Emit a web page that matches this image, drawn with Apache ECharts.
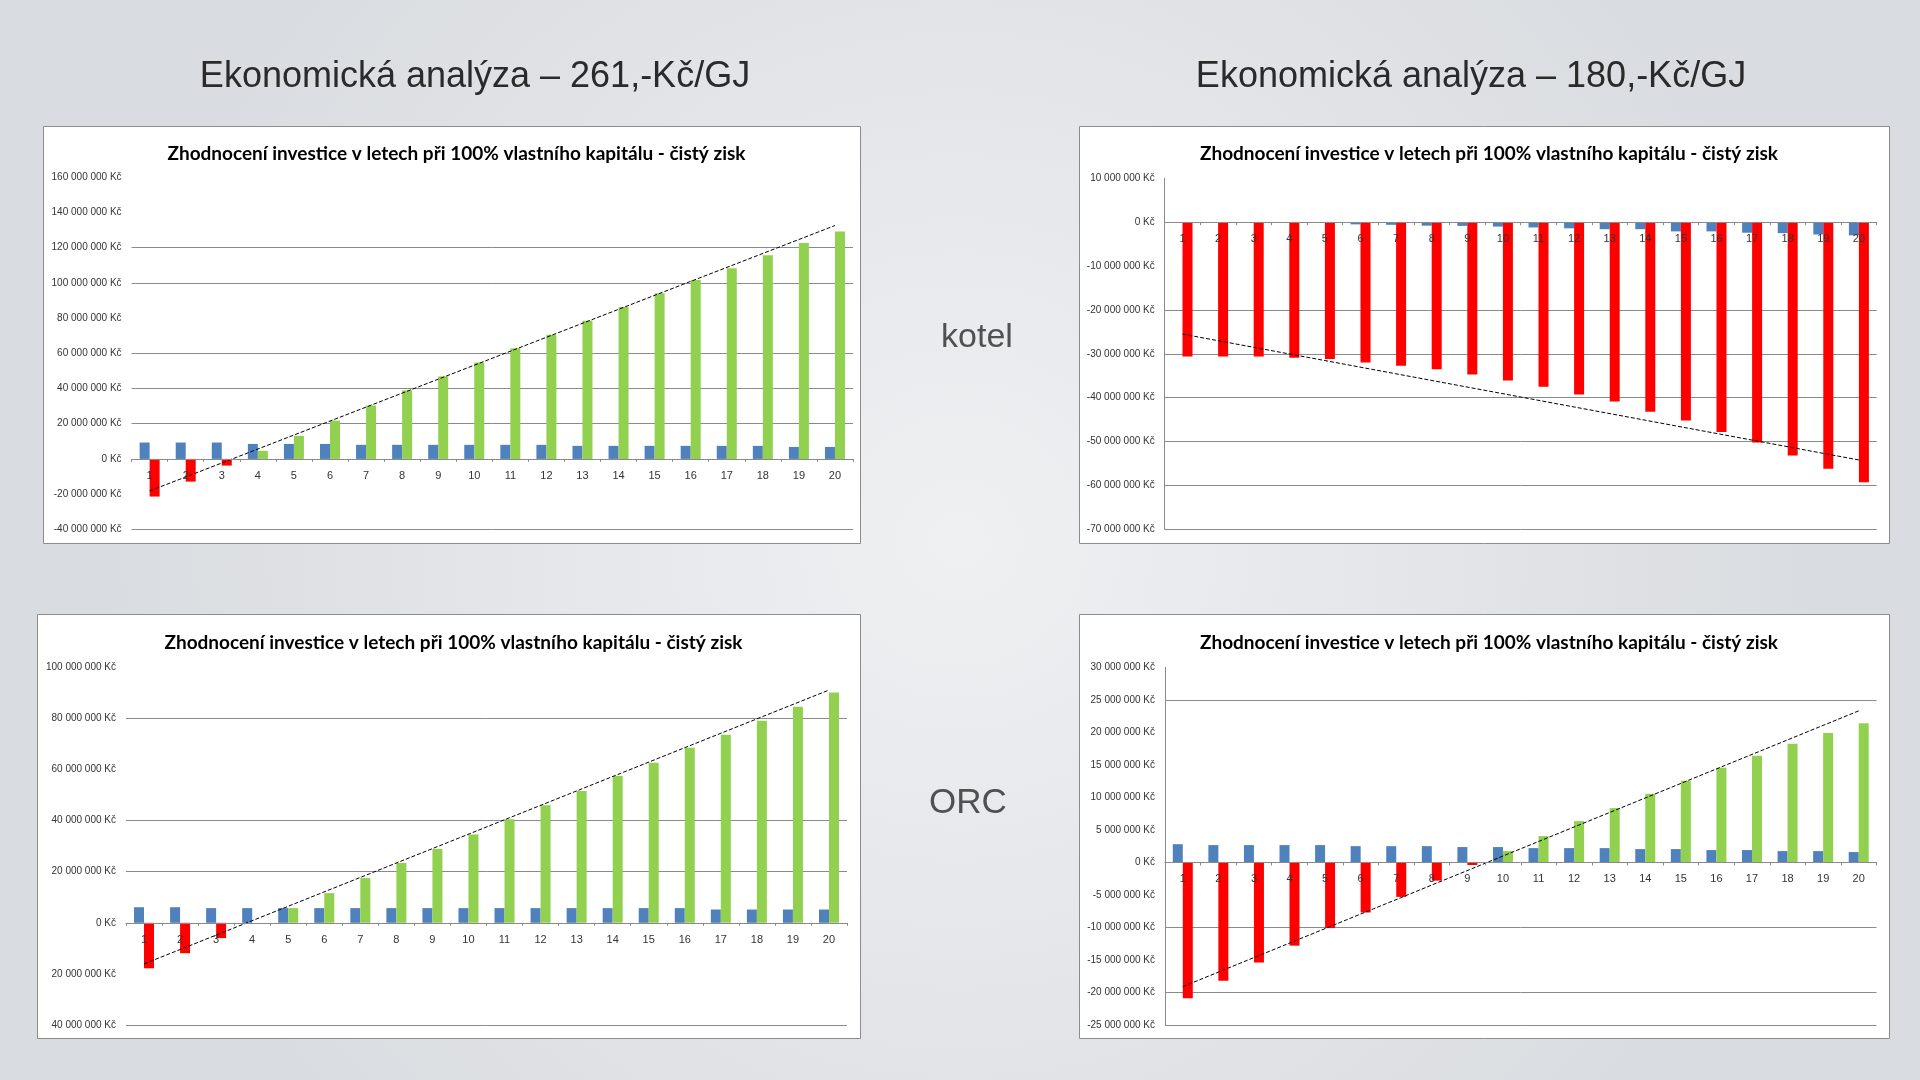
<!DOCTYPE html>
<html><head><meta charset="utf-8">
<script src="https://cdn.jsdelivr.net/npm/echarts@6/dist/echarts.min.js"></script>
<style>html,body{margin:0;padding:0;background:#e6e8eb}#c{width:1920px;height:1080px}</style>
</head><body><div id="c"></div>
<script>
// ---- data (values in millions of Kč) ----
const years = ['1','2','3','4','5','6','7','8','9','10','11','12','13','14','15','16','17','18','19','20'];

// 261 Kč/GJ – kotel
const kotel261Blue   = [9.3,9.3,9.3,8.5,8.5,8.5,8.0,8.0,8.0,8.0,8.0,8.0,7.4,7.4,7.4,7.4,7.4,7.4,6.8,6.8];
const kotel261Profit = [-21.4,-12.9,-3.8,4.6,13.1,21.8,30.3,38.9,46.9,54.8,62.8,70.6,78.5,86.3,94.1,101.7,108.3,115.7,122.6,129.2];
const kotel261Trend  = [-18.2, 132.6];

// 180 Kč/GJ – kotel
const kotel180Blue   = [-0.1,-0.1,-0.05,-0.1,-0.1,-0.5,-0.6,-0.8,-0.85,-1.0,-1.2,-1.4,-1.6,-1.6,-2.1,-2.1,-2.4,-2.5,-2.8,-3.0];
const kotel180Profit = [-30.6,-30.6,-30.6,-30.9,-31.2,-32.0,-32.7,-33.5,-34.7,-36.1,-37.5,-39.3,-40.9,-43.2,-45.2,-47.8,-50.2,-53.2,-56.2,-59.3];
const kotel180Trend  = [-25.5, -54.2];

// 261 Kč/GJ – ORC
const orc261Blue   = [6.1,6.1,5.75,5.75,5.75,5.75,5.75,5.75,5.75,5.75,5.75,5.75,5.75,5.75,5.75,5.75,5.2,5.2,5.2,5.2];
const orc261Profit = [-17.8,-11.9,-6.0,0,5.75,11.6,17.5,23.4,28.9,34.6,40.5,46.0,51.6,57.5,62.6,68.5,73.6,79.1,84.6,90.1];
const orc261Trend  = [-16.1, 91.1];

// 180 Kč/GJ – ORC
const orc180Blue   = [2.8,2.66,2.66,2.66,2.66,2.5,2.5,2.5,2.36,2.36,2.2,2.2,2.2,2.05,2.05,1.9,1.9,1.74,1.74,1.59];
const orc180Profit = [-20.9,-18.2,-15.4,-12.8,-10.1,-7.7,-5.3,-2.8,-0.4,1.74,4.05,6.35,8.35,10.55,12.55,14.55,16.4,18.25,19.9,21.4];
const orc180Trend  = [-19.1, 23.3];

// axis ranges (millions)
const axis1 = {min:-40, max:160, interval:20};
const axis2 = {min:-70, max:10,  interval:10};
const axis3 = {min:-40, max:100, interval:20};
const axis4 = {min:-25, max:30,  interval:5};

const slideTitleLeft  = 'Ekonomická analýza – 261,-Kč/GJ';
const slideTitleRight = 'Ekonomická analýza – 180,-Kč/GJ';
const rowLabels = ['kotel', 'ORC'];
const chartTitle = 'Zhodnocení investice v letech při 100% vlastního kapitálu - čistý zisk';

// ---- helpers ----
function kc(v, noSign) {
  const n = Math.round(v * 1e6);
  if (n === 0) return '0 Kč';
  const s = Math.abs(n).toString().replace(/\B(?=(\d{3})+(?!\d))/g, ' ');
  return (n < 0 && !noSign ? '-' : '') + s + ' Kč';
}
function trendData(t) {
  return years.map((_, i) => i === 0 ? t[0] : (i === years.length - 1 ? t[1] : '-'));
}
const G = '#8a8a8a', T = 'rgba(0,0,0,0)';
const LF = '"Liberation Sans", Arial, sans-serif';

const boxes = [
  {x:43,  y:126, w:817, h:417},
  {x:1079,y:126, w:810, h:417},
  {x:37,  y:614, w:823, h:424},
  {x:1079,y:614, w:810, h:424}
];
const grids = [
  {left:131.6, top:177.3, width:721.4, height:352},
  {left:1164.7,top:178.3, width:712,   height:351},
  {left:126,   top:667.3, width:721,   height:357.7},
  {left:1165,  top:667.3, width:711.5, height:357.7}
];
const axes = [axis1, axis2, axis3, axis4];
const splitColors = [
  [G,T,T,G,G,G,T,G,G,T,T],
  [G,G,G,G,G,G,T,T,T],
  [G,T,T,G,G,T,G,T],
  [G,G,T,G,T,T,T,T,T,T,G,T]
];
const showYLine = [false, true, false, true];
const blues = [kotel261Blue, kotel180Blue, orc261Blue, orc180Blue];
const profits = [kotel261Profit, kotel180Profit, orc261Profit, orc180Profit];
const trends = [kotel261Trend, kotel180Trend, orc261Trend, orc180Trend];
const titleY = [139, 139, 628, 628];

const option = {
  animation: false,
  backgroundColor: {type:'radial', x:0.5, y:0.5, r:0.8,
    colorStops:[{offset:0,color:'#eff0f2'},{offset:1,color:'#d9dce0'}]},
  title: boxes.map((b, i) => ({
    text: chartTitle, left: b.x + b.w / 2, top: titleY[i], textAlign: 'center',
    textStyle: {fontFamily: 'Lato, "Open Sans", sans-serif', fontWeight: 'bold', fontSize: 19, color: '#000'}
  })),
  graphic: [
    ...boxes.map(b => ({type:'rect', z:-10, silent:true,
      shape:{x:b.x+0.5, y:b.y+0.5, width:b.w, height:b.h},
      style:{fill:'#fff', stroke:'#8c8c8c', lineWidth:1}})),
    {type:'text', x:475, y:77.5, style:{text:slideTitleLeft, font:'36px '+LF, fill:'#2a2a2a', textAlign:'center', textVerticalAlign:'middle', verticalAlign:'middle'}},
    {type:'text', x:1471, y:77.5, style:{text:slideTitleRight, font:'36px '+LF, fill:'#2a2a2a', textAlign:'center', textVerticalAlign:'middle', verticalAlign:'middle'}},
    {type:'text', x:977, y:337.5, style:{text:rowLabels[0], font:'34px '+LF, fill:'#505050', textAlign:'center', textVerticalAlign:'middle', verticalAlign:'middle'}},
    {type:'text', x:968, y:803.5, style:{text:rowLabels[1], font:'35px '+LF, fill:'#505050', textAlign:'center', textVerticalAlign:'middle', verticalAlign:'middle'}}
  ],
  grid: grids.map(g => Object.assign({containLabel:false, outerBoundsMode:'none'}, g)),
  xAxis: grids.map((g, i) => ({
    gridIndex: i, type: 'category', data: years, z: 5, position: 'bottom',
    // place the category axis on the value axis' zero line
    offset: -g.height * (0 - axes[i].min) / (axes[i].max - axes[i].min),
    axisLine: {onZero: false, lineStyle: {color: G, width: 1}},
    axisTick: {show: true, length: 3, lineStyle: {color: G}},
    axisLabel: {fontSize: 11, color: '#333', margin: 11.5, fontFamily: LF},
    splitLine: {show: false}
  })),
  yAxis: axes.map((a, i) => ({
    gridIndex: i, type: 'value', min: a.min, max: a.max, interval: a.interval,
    axisLine: {show: showYLine[i], lineStyle: {color: G}},
    axisTick: {show: false},
    axisLabel: {fontSize: 10, color: '#333', margin: 10, fontFamily: LF,
      formatter: v => kc(v, i === 2)},
    splitLine: {show: true, lineStyle: {color: splitColors[i], width: 1}}
  })),
  series: []
};
for (let i = 0; i < 4; i++) {
  option.series.push({
    type: 'bar', xAxisIndex: i, yAxisIndex: i, data: blues[i],
    barWidth: 10, barGap: '0%', itemStyle: {color: '#4F81BD'}
  });
  option.series.push({
    type: 'bar', xAxisIndex: i, yAxisIndex: i, data: profits[i],
    barWidth: 10, barGap: '0%',
    itemStyle: {color: p => p.value < 0 ? '#FF0000' : '#92D050'}
  });
  option.series.push({
    type: 'line', xAxisIndex: i, yAxisIndex: i, data: trendData(trends[i]),
    connectNulls: true, symbol: 'none', z: 4, silent: true,
    lineStyle: {color: '#000', width: 1, type: [4, 2]}
  });
}
const chart = echarts.init(document.getElementById('c'));
chart.setOption(option);
</script></body></html>
